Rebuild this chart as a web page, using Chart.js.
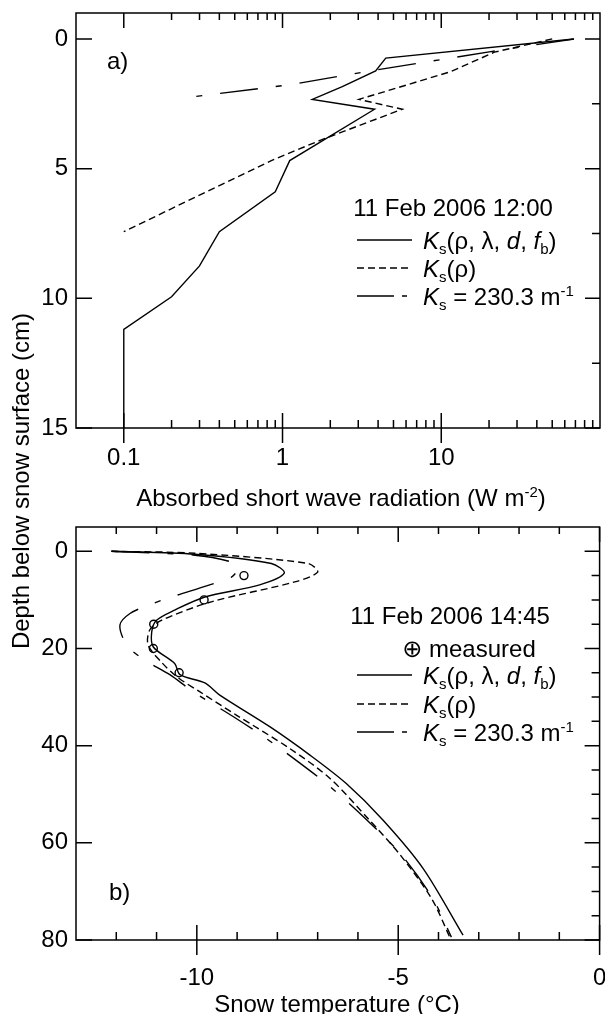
<!DOCTYPE html>
<html>
<head>
<meta charset="utf-8">
<script src="https://cdn.jsdelivr.net/npm/chart.js@4.4.0/dist/chart.umd.min.js"></script>
<style>
html,body{margin:0;padding:0;background:#fff;overflow:hidden}
#wrap{position:relative;width:605px;height:1014px}
canvas{position:absolute;left:0;top:0}
</style>
</head>
<body>
<div id="wrap"><canvas id="ca" width="605" height="1014"></canvas><canvas id="cb" width="605" height="1014"></canvas></div>
<script>
// ---------- Panel a: absorbed short wave radiation (W m-2) vs depth (cm) ----------
const radDepthFull = [0, 0.74, 1.23, 1.84, 2.33, 2.71, 4.69, 5.89, 7.43, 8.75, 9.94, 11.2, 15];
const radFull      = [68.5, 4.47, 3.86, 2.38, 1.54, 3.8, 1.11, 0.90, 0.40, 0.30, 0.20, 0.10, 0.10];
const radDepthRho  = [0, 0.51, 1.26, 2.33, 2.71, 3.9, 4.69, 7.43];
const radRho       = [50, 21.6, 11.5, 3.03, 5.68, 1.74, 0.85, 0.10];
const radDepthConst = [0, 0.49, 1.2, 1.77, 2.29];
const radConst      = [68.5, 20.5, 3.86, 1.10, 0.227];
const radXTicks = [0.1, 1, 10];
const radXMinor = [0.2,0.3,0.4,0.5,0.6,0.7,0.8,0.9,2,3,4,5,6,7,8,9,20,30,40,50,60,70,80,90];
const radYTicks = [0, 5, 10, 15];
const radYMinor = [2.5, 7.5, 12.5];

// ---------- Panel b: snow temperature (°C) vs depth (cm) ----------
const tDepthFull = [0, 0.6, 2.5, 4.5, 6.9, 9.4, 12.1, 14.2, 16.6, 19.7, 23.1, 25.4, 27.1, 29.6, 36.1, 41.9, 47.8, 55.3, 65.3, 79.0];
const tFull      = [-12.12, -10.05, -8.15, -7.83, -8.44, -9.80, -10.55, -11.0, -11.12, -11.08, -10.55, -10.42, -9.80, -9.43, -8.19, -7.20, -6.29, -5.38, -4.38, -3.39];
const tDepthRho  = [0, 0.4, 2.5, 4.3, 6.3, 10.4, 14.2, 16.2, 19.3, 22.8, 25.8, 28.9, 33.7, 40.6, 46.7, 55.0, 62.5, 71.5, 79.4];
const tRho       = [-12.12, -10.05, -7.24, -7.0, -7.57, -9.64, -10.88, -11.17, -11.21, -10.88, -10.50, -9.93, -9.02, -7.69, -6.70, -5.75, -4.95, -4.17, -3.72];
const tDepthConst = [0, 0.8, 2.2, 3.5, 5.3, 7.0, 9.4, 11.0, 12.8, 15.2, 19.3, 22.2, 25.4, 28.9, 34.0, 38.1, 43.6, 48.1, 54.6, 62.5, 71.5, 79.4];
const tConst      = [-12.12, -10.05, -9.14, -8.98, -9.14, -9.72, -10.63, -11.17, -11.66, -11.91, -11.74, -11.33, -10.67, -10.09, -9.10, -8.35, -7.44, -6.74, -5.87, -4.92, -4.14, -3.68];
const tDepthMeas = [5, 10, 15, 20, 25];
const tMeas      = [-8.83, -9.82, -11.07, -11.08, -10.44];
const tXTicks = [-10, -5, 0];
const tXMinor = [-12, -11, -9, -8, -7, -6, -4, -3, -2, -1];
const tYTicks = [0, 20, 40, 60, 80];
const tYMinor = [5, 10, 15, 25, 30, 35, 45, 50, 55, 65, 70, 75];

const FONT = "'Liberation Sans', Arial, Helvetica, 'DejaVu Sans', sans-serif";
const FS = 24;
const DASH = [7, 4];
const DASHDOT = [38, 18, 6, 18];

function pts(xs, ys) { return xs.map((v, i) => ({x: v, y: ys[i]})); }

function rich(ctx, segs, x, y, size, align) {
  const parts = segs.map(s => {
    const sz = (s.sub || s.sup) ? Math.round(size * 0.62) : size;
    const f = (s.it ? 'italic ' : '') + sz + 'px ' + FONT;
    ctx.font = f;
    return {s, f, w: ctx.measureText(s.t).width, dy: s.sub ? size * 0.24 : (s.sup ? -size * 0.36 : 0)};
  });
  const total = parts.reduce((a, p) => a + p.w, 0);
  let cx = align === 'center' ? x - total / 2 : (align === 'right' ? x - total : x);
  ctx.textAlign = 'left';
  ctx.textBaseline = 'alphabetic';
  parts.forEach(p => { ctx.font = p.f; ctx.fillText(p.s.t, cx, y + p.dy); cx += p.w; });
}

function frameTicks(chart, spec) {
  const {ctx, chartArea: {left, right, top, bottom}} = chart;
  const xs = chart.scales.x, ys = chart.scales.y;
  ctx.save();
  ctx.strokeStyle = '#000';
  ctx.lineWidth = 1.5;
  ctx.strokeRect(left, top, right - left, bottom - top);
  ctx.beginPath();
  spec.xMajor.forEach(v => { const p = xs.getPixelForValue(v);
    ctx.moveTo(p, bottom + 15); ctx.lineTo(p, bottom - 15);
    ctx.moveTo(p, top); ctx.lineTo(p, top + 15); });
  spec.xMinor.forEach(v => { const p = xs.getPixelForValue(v);
    ctx.moveTo(p, bottom); ctx.lineTo(p, bottom - 8);
    ctx.moveTo(p, top); ctx.lineTo(p, top + 7); });
  spec.yMajor.forEach(v => { const p = ys.getPixelForValue(v);
    ctx.moveTo(left, p); ctx.lineTo(left + 16, p);
    ctx.moveTo(right, p); ctx.lineTo(right - 15, p); });
  spec.yMinor.forEach(v => { const p = ys.getPixelForValue(v);
    ctx.moveTo(right, p); ctx.lineTo(right - 8, p); });
  ctx.stroke();
  ctx.restore();
}

function legendRows(ctx, rows, x0, x1, tx) {
  rows.forEach(r => {
    ctx.save();
    ctx.strokeStyle = '#000';
    ctx.lineWidth = 1.5;
    ctx.setLineDash(r.dash);
    ctx.beginPath(); ctx.moveTo(x0, r.y); ctx.lineTo(x1, r.y); ctx.stroke();
    ctx.restore();
    ctx.fillStyle = '#000';
    rich(ctx, r.segs, tx, r.y + 8.5, FS, 'left');
  });
}

const segFull  = [{t:'K', it:1}, {t:'s', sub:1}, {t:'(ρ, λ, '}, {t:'d', it:1}, {t:', '}, {t:'f', it:1}, {t:'b', sub:1}, {t:')'}];
const segRho   = [{t:'K', it:1}, {t:'s', sub:1}, {t:'(ρ)'}];
const segConst = [{t:'K', it:1}, {t:'s', sub:1}, {t:' = 230.3 m'}, {t:'-1', sup:1}];

function lineDS(label, xs, ys, dash, tension) {
  return {label, data: pts(xs, ys), showLine: true, borderColor: '#000', borderWidth: 1.4,
          borderDash: dash, pointRadius: 0, tension: tension, fill: false};
}

function tickOpts(pad) {
  return {color: '#000', font: {family: FONT, size: FS}, padding: pad, autoSkip: false, maxRotation: 0, minRotation: 0};
}

// ---------------- Chart A ----------------
new Chart(document.getElementById('ca'), {
  type: 'scatter',
  data: {datasets: [
    lineDS('Ks(ρ, λ, d, fb)', radFull, radDepthFull, [], 0),
    lineDS('Ks(ρ)', radRho, radDepthRho, DASH, 0),
    lineDS('Ks = 230.3 m-1', radConst, radDepthConst, DASHDOT, 0)
  ]},
  options: {
    responsive: false, animation: false, devicePixelRatio: 1,
    layout: {padding: {top: 13, right: 5, bottom: 526, left: 0}},
    plugins: {legend: {display: false}, tooltip: {enabled: false}},
    scales: {
      x: {type: 'logarithmic', min: 0.05, max: 100,
          grid: {display: false, drawTicks: false}, border: {display: false},
          afterBuildTicks: s => { s.ticks = radXTicks.map(v => ({value: v})); },
          afterFit: s => { s.height = 60; s.paddingLeft = 0; s.paddingRight = 0; },
          ticks: Object.assign(tickOpts(16), {callback: v => String(v)})},
      y: {type: 'linear', reverse: true, min: -1, max: 15,
          grid: {display: false, drawTicks: false}, border: {display: false},
          afterBuildTicks: s => { s.ticks = radYTicks.map(v => ({value: v})); },
          afterFit: s => { s.width = 76; s.paddingTop = 0; s.paddingBottom = 0; },
          ticks: Object.assign(tickOpts(8), {callback: v => String(v)})}
    }
  },
  plugins: [{
    id: 'decorA',
    afterDraw(chart) {
      const ctx = chart.ctx;
      frameTicks(chart, {xMajor: radXTicks, xMinor: radXMinor, yMajor: radYTicks, yMinor: radYMinor});
      ctx.save();
      ctx.fillStyle = '#000';
      rich(ctx, [{t:'a)'}], 107, 69, FS, 'left');
      rich(ctx, [{t:'11 Feb 2006 12:00'}], 453, 215.5, FS, 'center');
      legendRows(ctx, [
        {y: 240, dash: [], segs: segFull},
        {y: 268, dash: DASH, segs: segRho},
        {y: 296, dash: [37, 8, 5, 200], segs: segConst}
      ], 357, 412, 423);
      rich(ctx, [{t:'Absorbed short wave radiation (W m'}, {t:'-2', sup:1}, {t:')'}], 341, 506, FS, 'center');
      ctx.restore();
    }
  }]
});

// ---------------- Chart B ----------------
new Chart(document.getElementById('cb'), {
  type: 'scatter',
  data: {datasets: [
    lineDS('Ks(ρ, λ, d, fb)', tFull, tDepthFull, [], 0.3),
    lineDS('Ks(ρ)', tRho, tDepthRho, DASH, 0.3),
    lineDS('Ks = 230.3 m-1', tConst, tDepthConst, DASHDOT, 0.3),
    {label: 'measured', data: pts(tMeas, tDepthMeas), showLine: false, pointRadius: 4,
     pointStyle: 'circle', pointBorderColor: '#000', pointBackgroundColor: 'rgba(255,255,255,0)', pointBorderWidth: 1.4}
  ]},
  options: {
    responsive: false, animation: false, devicePixelRatio: 1,
    layout: {padding: {top: 527, right: 5, bottom: 14, left: 0}},
    plugins: {legend: {display: false}, tooltip: {enabled: false}},
    scales: {
      x: {type: 'linear', min: -13, max: 0,
          grid: {display: false, drawTicks: false}, border: {display: false},
          afterBuildTicks: s => { s.ticks = tXTicks.map(v => ({value: v})); },
          afterFit: s => { s.height = 60; s.paddingLeft = 0; s.paddingRight = 0; },
          ticks: Object.assign(tickOpts(24), {callback: v => String(v)})},
      y: {type: 'linear', reverse: true, min: -5, max: 80,
          grid: {display: false, drawTicks: false}, border: {display: false},
          afterBuildTicks: s => { s.ticks = tYTicks.map(v => ({value: v})); },
          afterFit: s => { s.width = 76; s.paddingTop = 0; s.paddingBottom = 0; },
          ticks: Object.assign(tickOpts(8), {callback: v => String(v)})}
    }
  },
  plugins: [{
    id: 'decorB',
    afterDraw(chart) {
      const ctx = chart.ctx;
      frameTicks(chart, {xMajor: tXTicks, xMinor: tXMinor, yMajor: tYTicks, yMinor: tYMinor});
      ctx.save();
      ctx.fillStyle = '#000';
      rich(ctx, [{t:'b)'}], 109, 900, FS, 'left');
      rich(ctx, [{t:'11 Feb 2006 14:45'}], 450, 623.5, FS, 'center');
      rich(ctx, [{t:'⊕ measured'}], 469, 656.5, FS, 'center');
      legendRows(ctx, [
        {y: 675, dash: [], segs: segFull},
        {y: 704, dash: DASH, segs: segRho},
        {y: 732, dash: [37, 8, 5, 200], segs: segConst}
      ], 357, 412, 423);
      rich(ctx, [{t:'Snow temperature (°C)'}], 337, 1011.5, FS, 'center');
      // shared y-axis title
      ctx.translate(20, 481);
      ctx.rotate(-Math.PI / 2);
      rich(ctx, [{t:'Depth below snow surface (cm)'}], 0, 8.5, FS, 'center');
      ctx.restore();
    }
  }]
});
</script>
</body>
</html>
